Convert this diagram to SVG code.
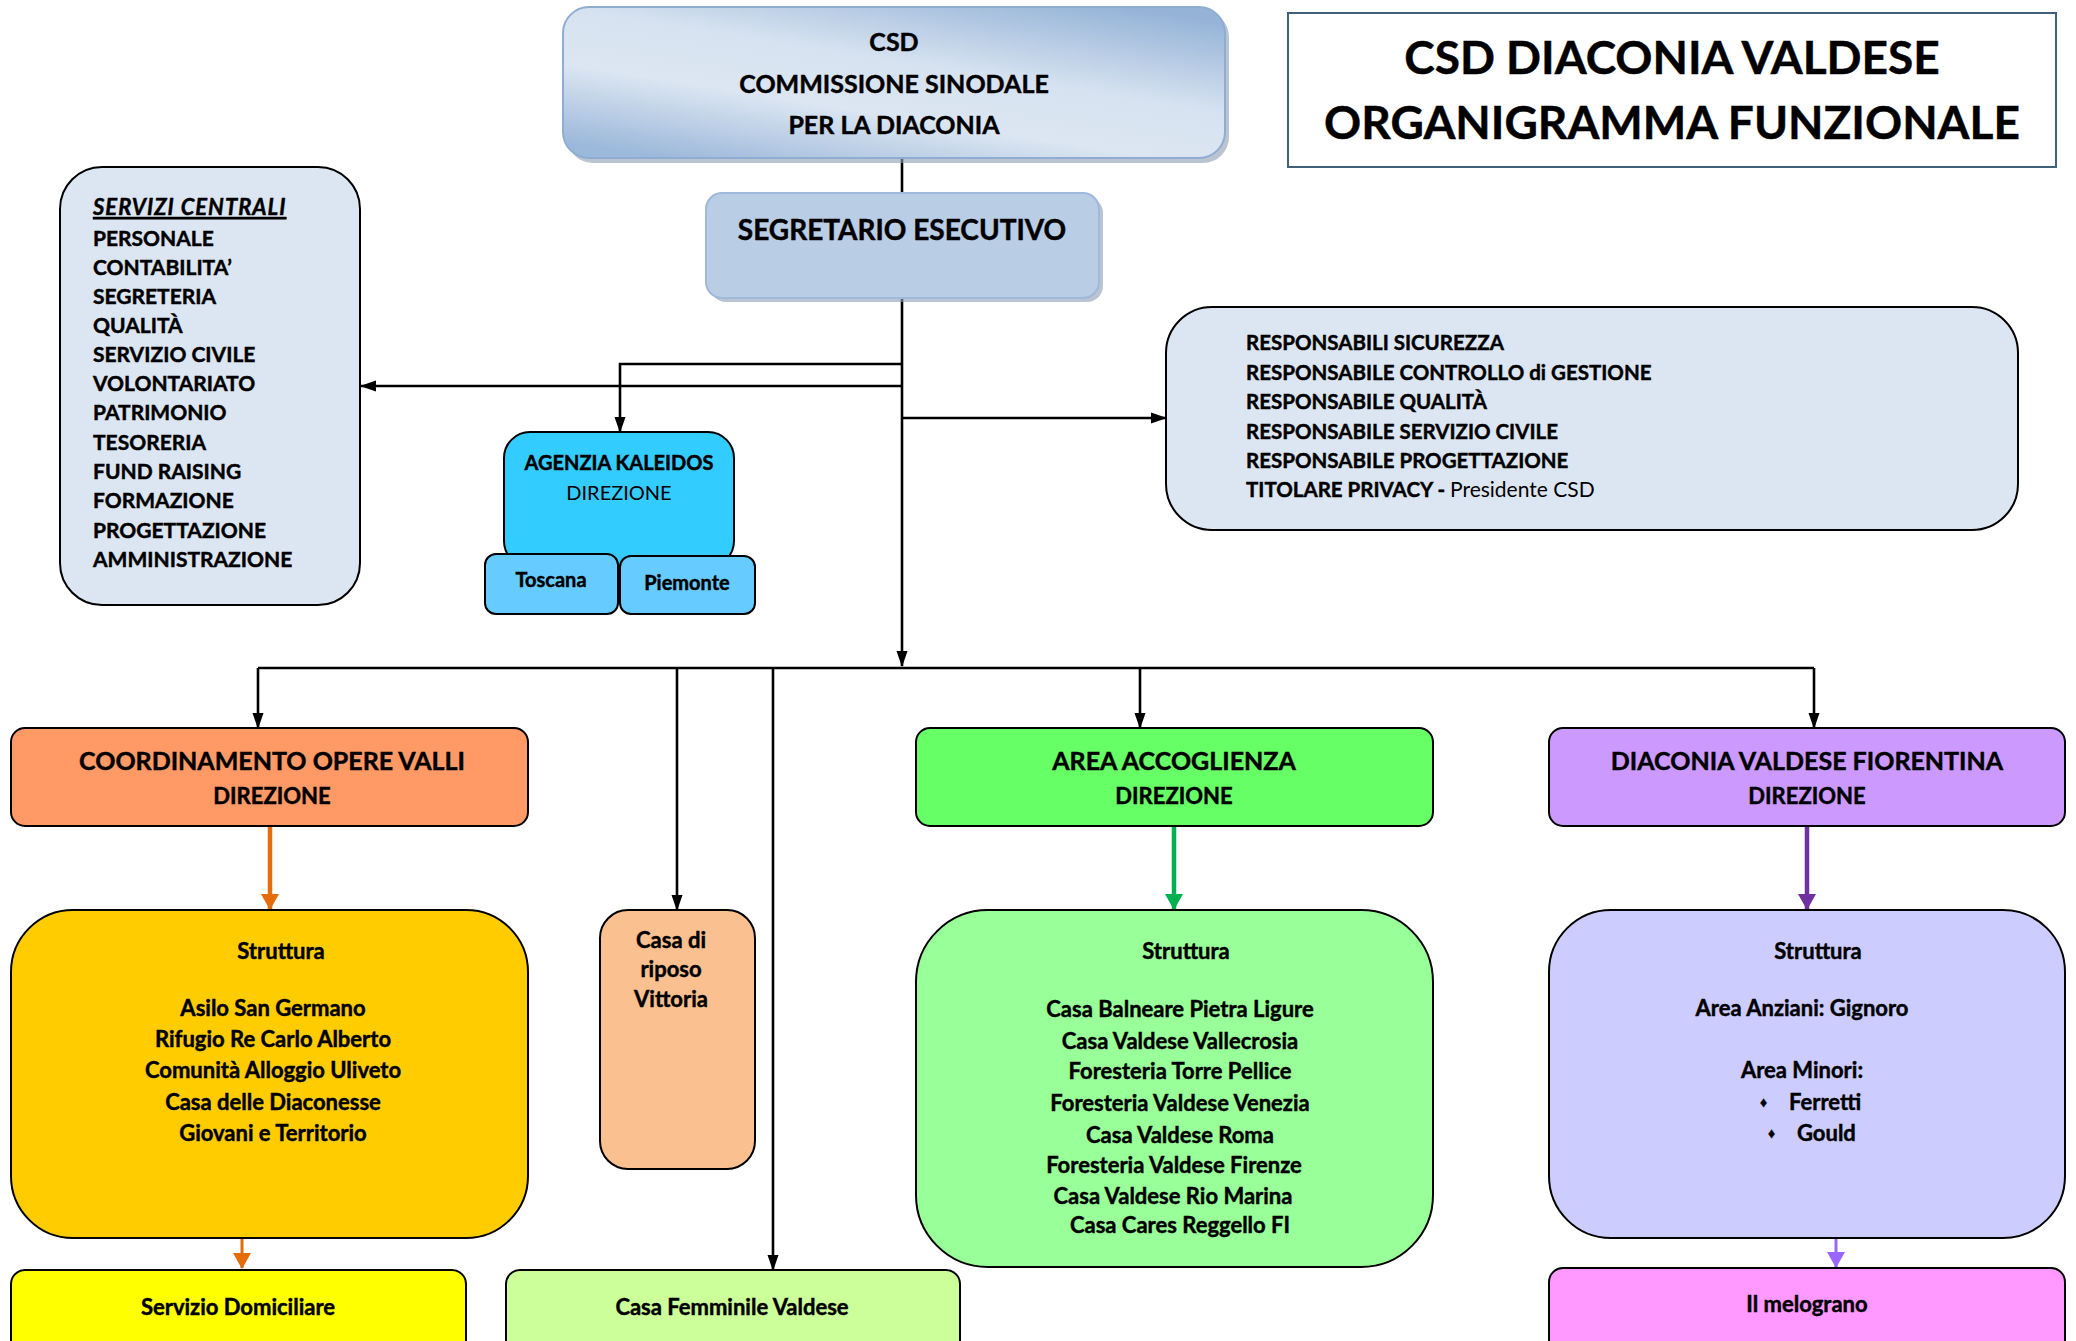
<svg xmlns="http://www.w3.org/2000/svg" width="2076" height="1341" viewBox="0 0 2076 1341">
<style>
text{font-family:Lato,"Open Sans","Liberation Sans",sans-serif;font-weight:bold;fill:#000;stroke:#000;stroke-width:0.45}
.c{text-anchor:middle}
.box{stroke:#000;stroke-width:2}
.ln{fill:none;stroke:#000;stroke-width:2.6}
.reg{font-weight:normal;stroke-width:0}
.s{font-size:21px}
.r{font-size:20.5px}
.i{font-size:22px}
</style>
<defs>
<linearGradient id="gCsd" x1="0.15" y1="1" x2="0.85" y2="0">
<stop offset="0" stop-color="#9cb8da"/>
<stop offset="0.35" stop-color="#dce6f2"/>
<stop offset="0.6" stop-color="#d6e2f0"/>
<stop offset="1" stop-color="#95b3d7"/>
</linearGradient>
<marker id="ab" markerUnits="userSpaceOnUse" markerWidth="16" markerHeight="12" refX="15" refY="6" orient="auto"><path d="M0,0.5 L16,6 L0,11.5 z" fill="#000"/></marker>
<marker id="ao" markerUnits="userSpaceOnUse" markerWidth="16" markerHeight="18" refX="15" refY="9" orient="auto"><path d="M0,0 L16,9 L0,18 z" fill="#e46c0a"/></marker>
<marker id="ag" markerUnits="userSpaceOnUse" markerWidth="16" markerHeight="18" refX="15" refY="9" orient="auto"><path d="M0,0 L16,9 L0,18 z" fill="#00b050"/></marker>
<marker id="ap" markerUnits="userSpaceOnUse" markerWidth="16" markerHeight="18" refX="15" refY="9" orient="auto"><path d="M0,0 L16,9 L0,18 z" fill="#7030a0"/></marker>
<marker id="al" markerUnits="userSpaceOnUse" markerWidth="16" markerHeight="18" refX="15" refY="9" orient="auto"><path d="M0,0 L16,9 L0,18 z" fill="#9966ff"/></marker>
</defs>
<rect width="2076" height="1341" fill="#fff"/>

<g id="connectors">
<path class="ln" d="M902,159 V193"/>
<path class="ln" d="M902,298 V666" marker-end="url(#ab)"/>
<path class="ln" d="M902,364 H620 V432" marker-end="url(#ab)"/>
<path class="ln" d="M902,386 H361" marker-end="url(#ab)"/>
<path class="ln" d="M902,418 H1166" marker-end="url(#ab)"/>
<path class="ln" d="M258,668 H1814"/>
<path class="ln" d="M258,668 V728" marker-end="url(#ab)"/>
<path class="ln" d="M677,668 V910" marker-end="url(#ab)"/>
<path class="ln" d="M773,668 V1270" marker-end="url(#ab)"/>
<path class="ln" d="M1140,668 V728" marker-end="url(#ab)"/>
<path class="ln" d="M1814,668 V728" marker-end="url(#ab)"/>
<path d="M270,826 V909" stroke="#e46c0a" stroke-width="4.5" fill="none" marker-end="url(#ao)"/>
<path d="M1174,826 V909" stroke="#00b050" stroke-width="4.5" fill="none" marker-end="url(#ag)"/>
<path d="M1807,826 V909" stroke="#7030a0" stroke-width="4.5" fill="none" marker-end="url(#ap)"/>
<path d="M242,1238 V1268" stroke="#e46c0a" stroke-width="3" fill="none" marker-end="url(#ao)"/>
<path d="M1836,1238 V1267" stroke="#9966ff" stroke-width="3" fill="none" marker-end="url(#al)"/>
</g>

<g id="title">
<rect x="1288" y="13" width="768" height="154" fill="#fff" stroke="#41607a" stroke-width="2"/>
<text class="c" x="1672" y="74" font-size="46">CSD DIACONIA VALDESE</text>
<text class="c" x="1672" y="139" font-size="46">ORGANIGRAMMA FUNZIONALE</text>
</g>

<g id="csd">
<rect x="567" y="11" width="662" height="152" rx="26" fill="#8e9db3" opacity="0.6"/>
<rect x="563" y="7" width="662" height="151" rx="26" fill="url(#gCsd)" stroke="#8fadd3" stroke-width="2"/>
<text class="c" x="894" y="51" font-size="25">CSD</text>
<text class="c" x="894" y="93" font-size="25">COMMISSIONE SINODALE</text>
<text class="c" x="894" y="134" font-size="25">PER LA DIACONIA</text>
</g>

<g id="segretario">
<rect x="710" y="197" width="393" height="105" rx="16" fill="#8e9db3" opacity="0.6"/>
<rect x="706" y="193" width="393" height="105" rx="16" fill="#b9cde5" stroke="#9fb9da" stroke-width="2"/>
<text class="c" x="902" y="240" font-size="28">SEGRETARIO ESECUTIVO</text>
</g>

<g id="servizi-centrali">
<rect class="box" x="60" y="167" width="300" height="438" rx="42" fill="#dce6f2"/>
<text x="93" y="215" font-size="22" font-style="italic" letter-spacing="1" text-decoration="underline">SERVIZI CENTRALI</text>
<text class="s" x="93" y="246">PERSONALE</text>
<text class="s" x="93" y="275">CONTABILITA’</text>
<text class="s" x="93" y="304">SEGRETERIA</text>
<text class="s" x="93" y="333">QUALITÀ</text>
<text class="s" x="93" y="362">SERVIZIO CIVILE</text>
<text class="s" x="93" y="391">VOLONTARIATO</text>
<text class="s" x="93" y="420">PATRIMONIO</text>
<text class="s" x="93" y="450">TESORERIA</text>
<text class="s" x="93" y="479">FUND RAISING</text>
<text class="s" x="93" y="508">FORMAZIONE</text>
<text class="s" x="93" y="538">PROGETTAZIONE</text>
<text class="s" x="93" y="567">AMMINISTRAZIONE</text>
</g>

<g id="responsabili">
<rect class="box" x="1166" y="307" width="852" height="223" rx="46" fill="#dce6f2"/>
<text class="r" x="1246" y="350">RESPONSABILI SICUREZZA</text>
<text class="r" x="1246" y="380">RESPONSABILE CONTROLLO di GESTIONE</text>
<text class="r" x="1246" y="409">RESPONSABILE QUALITÀ</text>
<text class="r" x="1246" y="439">RESPONSABILE SERVIZIO CIVILE</text>
<text class="r" x="1246" y="468">RESPONSABILE PROGETTAZIONE</text>
<text class="r" x="1246" y="497">TITOLARE PRIVACY - <tspan class="reg" font-size="21">Presidente CSD</tspan></text>
</g>

<g id="kaleidos">
<rect class="box" x="504" y="432" width="230" height="135" rx="26" fill="#33ccff"/>
<text class="c" x="619" y="470" font-size="20">AGENZIA KALEIDOS</text>
<text class="c reg" x="619" y="500" font-size="20">DIREZIONE</text>
</g>
<g id="toscana">
<rect class="box" x="485" y="554" width="133" height="60" rx="11" fill="#66ccff"/>
<text class="c" x="551" y="587" font-size="20">Toscana</text>
</g>
<g id="piemonte">
<rect class="box" x="620" y="556" width="135" height="58" rx="11" fill="#66ccff"/>
<text class="c" x="687" y="590" font-size="20">Piemonte</text>
</g>

<g id="coordinamento">
<rect class="box" x="11" y="728" width="517" height="98" rx="14" fill="#ff9966"/>
<text class="c" x="272" y="770" font-size="25">COORDINAMENTO OPERE VALLI</text>
<text class="c" x="272" y="804" font-size="22">DIREZIONE</text>
</g>

<g id="struttura-valli">
<rect class="box" x="11" y="910" width="517" height="328" rx="62" fill="#ffcc00"/>
<text class="c i" x="281" y="959">Struttura</text>
<text class="c i" x="273" y="1016">Asilo San Germano</text>
<text class="c i" x="273" y="1047">Rifugio Re Carlo Alberto</text>
<text class="c i" x="273" y="1078">Comunità Alloggio Uliveto</text>
<text class="c i" x="273" y="1110">Casa delle Diaconesse</text>
<text class="c i" x="273" y="1141">Giovani e Territorio</text>
</g>

<g id="servizio-domiciliare">
<rect class="box" x="11" y="1270" width="455" height="100" rx="14" fill="#ffff00"/>
<text class="c i" x="238" y="1315">Servizio Domiciliare</text>
</g>

<g id="casa-riposo">
<rect class="box" x="600" y="910" width="155" height="259" rx="28" fill="#fac090"/>
<text class="c i" x="671" y="948">Casa di</text>
<text class="c i" x="671" y="977">riposo</text>
<text class="c i" x="671" y="1007">Vittoria</text>
</g>

<g id="casa-femminile">
<rect class="box" x="506" y="1270" width="454" height="100" rx="14" fill="#ccff99"/>
<text class="c i" x="732" y="1315">Casa Femminile Valdese</text>
</g>

<g id="area-accoglienza">
<rect class="box" x="916" y="728" width="517" height="98" rx="14" fill="#66ff66"/>
<text class="c" x="1174" y="770" font-size="25">AREA ACCOGLIENZA</text>
<text class="c" x="1174" y="804" font-size="22">DIREZIONE</text>
</g>

<g id="struttura-accoglienza">
<rect class="box" x="916" y="910" width="517" height="357" rx="72" fill="#99ff99"/>
<text class="c i" x="1186" y="959">Struttura</text>
<text class="c i" x="1180" y="1017">Casa Balneare Pietra Ligure</text>
<text class="c i" x="1180" y="1049">Casa Valdese Vallecrosia</text>
<text class="c i" x="1180" y="1079">Foresteria Torre Pellice</text>
<text class="c i" x="1180" y="1111">Foresteria Valdese Venezia</text>
<text class="c i" x="1180" y="1143">Casa Valdese Roma</text>
<text class="c i" x="1174" y="1173">Foresteria Valdese Firenze</text>
<text class="c i" x="1173" y="1204">Casa Valdese Rio Marina</text>
<text class="c i" x="1180" y="1233">Casa Cares Reggello FI</text>
</g>

<g id="diaconia-fiorentina">
<rect class="box" x="1549" y="728" width="516" height="98" rx="14" fill="#cc99ff"/>
<text class="c" x="1807" y="770" font-size="25">DIACONIA VALDESE FIORENTINA</text>
<text class="c" x="1807" y="804" font-size="22">DIREZIONE</text>
</g>

<g id="struttura-fiorentina">
<rect class="box" x="1549" y="910" width="516" height="328" rx="62" fill="#ccccff"/>
<text class="c i" x="1818" y="959">Struttura</text>
<text class="c i" x="1802" y="1016">Area Anziani: Gignoro</text>
<text class="c i" x="1802" y="1078">Area Minori:</text>
<text x="1760" y="1107" font-size="14">♦</text>
<text class="i" x="1789" y="1110">Ferretti</text>
<text x="1768" y="1138" font-size="14">♦</text>
<text class="i" x="1797" y="1141">Gould</text>
</g>

<g id="melograno">
<rect class="box" x="1549" y="1268" width="516" height="100" rx="14" fill="#ff99ff"/>
<text class="c i" x="1807" y="1312">Il melograno</text>
</g>
</svg>
